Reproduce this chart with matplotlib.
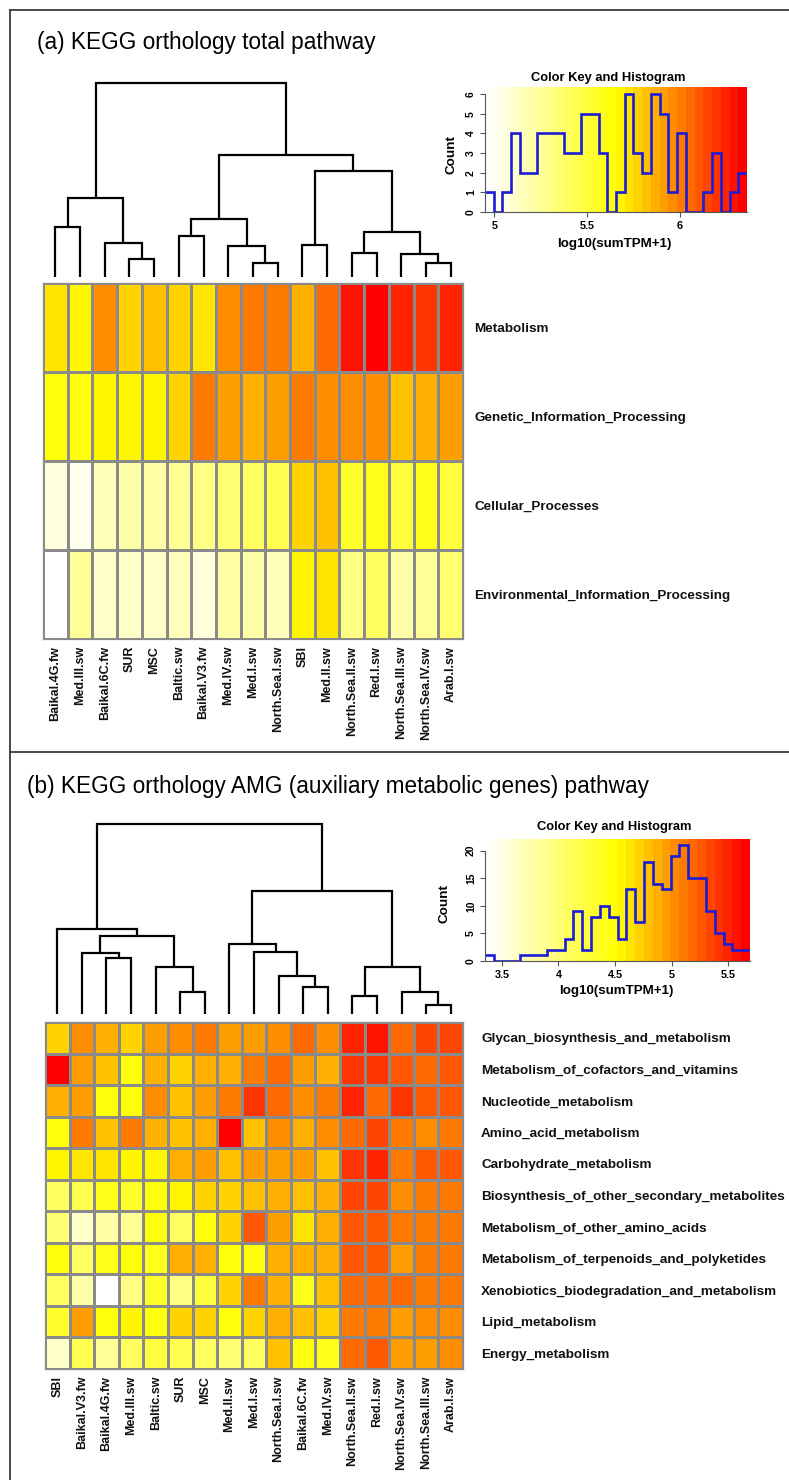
import numpy as np
import matplotlib
matplotlib.use('Agg')
import matplotlib.pyplot as plt
from matplotlib.colors import LinearSegmentedColormap
from matplotlib.lines import Line2D

plt.rcParams['font.family'] = ['Liberation Sans', 'DejaVu Sans']

W, H = 789, 1480

# ---------------- data: panel (a) ----------------
samples_a = ['Baikal.4G.fw', 'Med.III.sw', 'Baikal.6C.fw', 'SUR', 'MSC', 'Baltic.sw',
             'Baikal.V3.fw', 'Med.IV.sw', 'Med.I.sw', 'North.Sea.I.sw', 'SBI', 'Med.II.sw',
             'North.Sea.II.sw', 'Red.I.sw', 'North.Sea.III.sw', 'North.Sea.IV.sw', 'Arab.I.sw']
pathways_a = ['Metabolism', 'Genetic_Information_Processing', 'Cellular_Processes',
              'Environmental_Information_Processing']
metabolism_a = [5.73, 5.66, 5.97, 5.78, 5.81, 5.77, 5.74, 5.94, 6.03, 6.02, 5.87, 6.05, 6.29, 6.36, 6.23, 6.20, 6.22]
genetic_a = [5.61, 5.61, 5.66, 5.67, 5.67, 5.75, 6.01, 5.92, 5.87, 5.91, 6.03, 5.94, 5.94, 5.94, 5.81, 5.89, 5.92]
cellular_a = [5.09, 5.02, 5.17, 5.19, 5.22, 5.26, 5.30, 5.34, 5.39, 5.43, 5.78, 5.80, 5.53, 5.57, 5.47, 5.57, 5.49]
environmental_a = [4.95, 5.26, 5.11, 5.11, 5.12, 5.15, 5.08, 5.19, 5.22, 5.18, 5.66, 5.74, 5.30, 5.39, 5.22, 5.26, 5.34]
# dendrogram merges (left, right, height); ids >= 17 are earlier merges
merges_a = [(3, 4, 18), (2, 17, 34), (0, 1, 50), (19, 18, 79),
            (8, 9, 14), (7, 21, 31), (5, 6, 41), (23, 22, 58),
            (15, 16, 14), (14, 25, 23), (12, 13, 24), (27, 26, 45),
            (10, 11, 32), (29, 28, 106), (24, 30, 122), (20, 31, 194)]
key_range_a = (4.95, 6.36)
hist_counts_a = [1, 0, 1, 4, 2, 2, 4, 4, 4, 3, 3, 5, 5, 3, 0, 1, 6, 3, 2, 6, 5, 1, 4, 0, 0, 1, 3, 0, 1, 2]
xticks_a = [5, 5.5, 6]
xticklabels_a = ['5', '5.5', '6']
yticks_a = [0, 1, 2, 3, 4, 5, 6]

# ---------------- data: panel (b) ----------------
samples_b = ['SBI', 'Baikal.V3.fw', 'Baikal.4G.fw', 'Med.III.sw', 'Baltic.sw', 'SUR', 'MSC',
             'Med.II.sw', 'Med.I.sw', 'North.Sea.I.sw', 'Baikal.6C.fw', 'Med.IV.sw',
             'North.Sea.II.sw', 'Red.I.sw', 'North.Sea.IV.sw', 'North.Sea.III.sw', 'Arab.I.sw']
pathways_b = ['Glycan_biosynthesis_and_metabolism', 'Metabolism_of_cofactors_and_vitamins',
              'Nucleotide_metabolism', 'Amino_acid_metabolism', 'Carbohydrate_metabolism',
              'Biosynthesis_of_other_secondary_metabolites', 'Metabolism_of_other_amino_acids',
              'Metabolism_of_terpenoids_and_polyketides', 'Xenobiotics_biodegradation_and_metabolism',
              'Lipid_metabolism', 'Energy_metabolism']
glycan_b = [4.72, 5.05, 4.89, 4.73, 4.92, 5.04, 5.11, 4.97, 4.97, 5.01, 5.18, 5.04, 5.48, 5.58, 5.18, 5.37, 5.32]
cofactors_b = [5.69, 4.92, 4.82, 4.48, 4.89, 4.72, 4.85, 4.89, 5.11, 5.20, 4.97, 4.90, 5.39, 5.41, 5.23, 5.18, 5.25]
nucleotide_b = [4.89, 4.94, 4.52, 4.52, 5.06, 4.78, 4.92, 5.08, 5.41, 5.20, 5.05, 5.11, 5.46, 5.18, 5.41, 5.23, 5.27]
amino_acid_b = [4.52, 5.08, 4.78, 5.14, 4.89, 4.78, 4.85, 5.69, 4.83, 5.01, 4.87, 5.04, 5.18, 5.32, 5.08, 5.06, 5.11]
carbohydrate_b = [4.59, 4.62, 4.63, 4.57, 4.59, 4.85, 4.92, 4.78, 4.97, 4.92, 4.99, 4.82, 5.40, 5.53, 5.11, 5.27, 5.27]
secondary_b = [4.08, 4.15, 4.38, 4.31, 4.52, 4.57, 4.70, 4.70, 4.76, 4.85, 4.80, 4.85, 5.31, 5.34, 5.04, 5.11, 5.11]
other_amino_b = [4.01, 3.63, 3.80, 3.87, 4.52, 4.08, 4.52, 4.70, 5.27, 4.97, 4.66, 4.89, 5.25, 5.30, 5.13, 5.13, 5.13]
terpenoids_b = [4.48, 4.08, 4.38, 4.52, 4.43, 4.85, 4.90, 4.52, 4.50, 4.90, 4.89, 4.87, 5.23, 5.30, 4.94, 5.08, 5.08]
xenobiotics_b = [4.08, 3.80, 3.35, 3.94, 4.31, 3.94, 4.23, 4.70, 5.14, 4.85, 4.40, 4.78, 5.18, 5.20, 5.15, 5.13, 5.11]
lipid_b = [4.29, 4.92, 4.52, 4.59, 4.52, 4.69, 4.72, 4.52, 4.69, 4.85, 4.83, 4.70, 5.14, 5.13, 4.97, 5.05, 5.04]
energy_b = [3.63, 4.15, 3.87, 4.08, 4.23, 4.15, 4.08, 4.01, 4.08, 4.76, 4.52, 4.40, 5.18, 5.25, 4.92, 4.99, 5.01]
merges_b = [(5, 6, 22), (4, 17, 47), (2, 3, 56), (1, 19, 61), (20, 18, 78), (0, 21, 85),
            (10, 11, 27), (9, 23, 38), (8, 24, 62), (7, 25, 70),
            (15, 16, 9), (14, 27, 22), (12, 13, 18), (29, 28, 47),
            (26, 30, 123), (22, 31, 190)]
key_range_b = (3.35, 5.694)
hist_counts_b = [1, 0, 0, 0, 1, 1, 1, 2, 2, 4, 9, 2, 8, 10, 8, 4, 13, 7, 18, 14, 13, 19, 21, 15, 15, 9, 5, 3, 2, 2]
xticks_b = [3.5, 4, 4.5, 5, 5.5]
xticklabels_b = ['3.5', '4', '4.5', '5', '5.5']
yticks_b = [0, 5, 10, 15, 20]

# ---------------- styling ----------------
cmap = LinearSegmentedColormap.from_list('wyr', ['#FFFFFF', '#FFFF00', '#FF0000'], N=30)
GRID = '#8a8a8a'
COLLBL = dict(fontsize=9.0, fontweight='bold', color='#111111')
ROWLBL = dict(fontsize=9.7, fontweight='bold', color='#111111')
KEYFS = 9.3

fig = plt.figure(figsize=(W / 100, H / 100), dpi=100)


def rect(x0, y0, x1, y1):
    return [x0 / W, 1 - y1 / H, (x1 - x0) / W, (y1 - y0) / H]


def ftxt(x, y, s, **kw):
    fig.text(x / W, 1 - y / H, s, **kw)


def draw_dendro(box, merges, n):
    ax = fig.add_axes(rect(*box))
    pos = {i: i + 0.5 for i in range(n)}
    hgt = {i: 0.0 for i in range(n)}
    top = 0
    for k, (a, b, h) in enumerate(merges):
        xa, xb = pos[a], pos[b]
        ax.plot([xa, xa, xb, xb], [hgt[a], h, h, hgt[b]], color='black', lw=1.6,
                solid_joinstyle='miter', solid_capstyle='butt', clip_on=False)
        pos[n + k] = (xa + xb) / 2
        hgt[n + k] = h
        top = max(top, h)
    ax.set_xlim(0, n)
    ax.set_ylim(0, top)
    ax.axis('off')


def draw_heat(box, rows, rownames, colnames, vrange, rowpad):
    ax = fig.add_axes(rect(*box))
    M = np.array(rows)
    nr, nc = M.shape
    ax.pcolormesh(np.arange(nc + 1), np.arange(nr + 1), M, cmap=cmap,
                  vmin=vrange[0], vmax=vrange[1], edgecolors=GRID, linewidth=0.75)
    ax.set_xlim(0, nc)
    ax.set_ylim(nr, 0)
    ax.set_xticks(np.arange(nc) + 0.5)
    ax.set_xticklabels(colnames, rotation=90, **COLLBL)
    ax.yaxis.tick_right()
    ax.set_yticks(np.arange(nr) + 0.5)
    ax.set_yticklabels(rownames, **ROWLBL)
    ax.tick_params(axis='x', length=0, pad=5)
    ax.tick_params(axis='y', length=0, pad=rowpad)
    for s in ax.spines.values():
        s.set_color(GRID)
        s.set_linewidth(0.9)


def draw_key(box, vrange, counts, ymax, xt, xtl, yt, title_xy, count_xy, xlab_xy):
    ax = fig.add_axes(rect(*box))
    grad = np.linspace(vrange[0], vrange[1], 30)[None, :]
    ax.imshow(grad, cmap=cmap, vmin=vrange[0], vmax=vrange[1], aspect='auto',
              extent=[vrange[0], vrange[1], 0, ymax], origin='lower', interpolation='nearest')
    edges = np.linspace(vrange[0], vrange[1], len(counts) + 1)
    ax.stairs(counts, edges, color='#1c1cd6', lw=1.9, baseline=None)
    ax.set_xlim(vrange)
    ax.set_ylim(0, ymax)
    for s in ['top', 'right']:
        ax.spines[s].set_visible(False)
    ax.spines['left'].set_bounds(yt[0], yt[-1])
    ax.spines['bottom'].set_bounds(vrange[0], vrange[1])
    for s in ['left', 'bottom']:
        ax.spines[s].set_color('#555555')
        ax.spines[s].set_linewidth(0.8)
    ax.set_xticks(xt)
    ax.set_xticklabels(xtl, fontsize=7.8, fontweight='bold')
    ax.set_yticks(yt)
    ax.set_yticklabels([str(v) for v in yt], fontsize=7.5, fontweight='bold',
                       rotation=90, va='center')
    ax.tick_params(length=3.5, width=0.8, color='#555555', pad=3)
    ftxt(title_xy[0], title_xy[1], 'Color Key and Histogram', ha='center', va='center',
         fontsize=KEYFS, fontweight='bold')
    ftxt(count_xy[0], count_xy[1], 'Count', ha='center', va='center', rotation=90,
         fontsize=KEYFS + 0.4, fontweight='bold')
    ftxt(xlab_xy[0], xlab_xy[1], 'log10(sumTPM+1)', ha='center', va='center',
         fontsize=KEYFS + 0.3, fontweight='bold')


# ---------------- frame ----------------
for xs, ys in [([10, W], [10, 10]), ([10, 10], [10, H]), ([10, W], [752, 752])]:
    fig.add_artist(Line2D([x / W for x in xs], [1 - y / H for y in ys],
                          color='#3a3a3a', lw=1.3))

# ---------------- panel (a) ----------------
ftxt(37, 42, '(a) KEGG orthology total pathway', ha='left', va='center', fontsize=16.3)
draw_dendro((43, 83, 463, 277), merges_a, len(samples_a))
draw_heat((43, 283, 463, 639),
          [metabolism_a, genetic_a, cellular_a, environmental_a],
          pathways_a, samples_a, key_range_a, 8)
draw_key((485, 87, 747, 212), key_range_a, hist_counts_a, 6.36,
         xticks_a, xticklabels_a, yticks_a,
         (608, 78), (451, 155), (614, 244))

# ---------------- panel (b) ----------------
ftxt(27, 787, '(b) KEGG orthology AMG (auxiliary metabolic genes) pathway',
     ha='left', va='center', fontsize=16.3)
draw_dendro((45, 824, 463, 1014), merges_b, len(samples_b))
draw_heat((45, 1022, 463, 1369),
          [glycan_b, cofactors_b, nucleotide_b, amino_acid_b, carbohydrate_b, secondary_b,
           other_amino_b, terpenoids_b, xenobiotics_b, lipid_b, energy_b],
          pathways_b, samples_b, key_range_b, 13)
draw_key((485, 839, 750, 961), key_range_b, hist_counts_b, 22.1,
         xticks_b, xticklabels_b, yticks_b,
         (614, 827), (445, 903), (616, 991))

fig.savefig('out.png', dpi=100)
